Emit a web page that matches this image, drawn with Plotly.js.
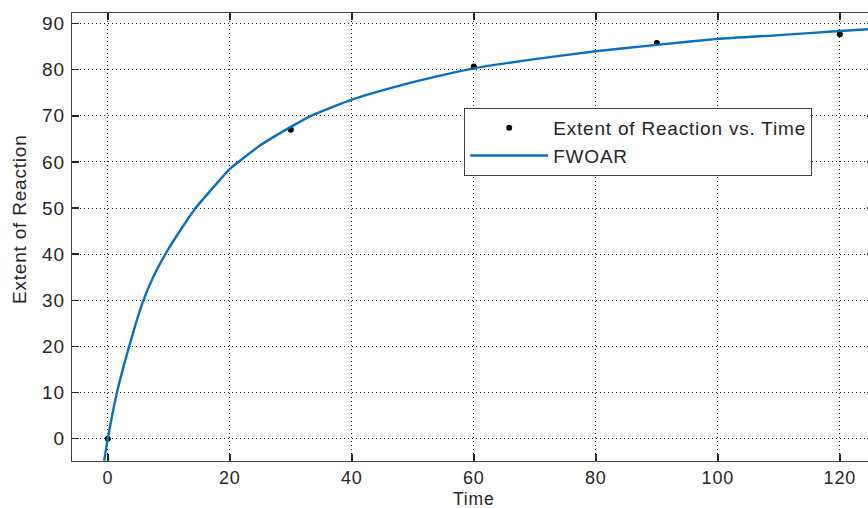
<!DOCTYPE html>
<html>
<head>
<meta charset="utf-8">
<script src="https://cdn.plot.ly/plotly-3.0.1.min.js"></script>
<style>
html,body{margin:0;padding:0;overflow:hidden;background:#fff;width:868px;height:508px;}
#chart{width:878px;height:508px;}
svg text{letter-spacing:0.8px;}
</style>
</head>
<body>
<div id="chart"></div>
<script>
// Measured data points
var timeData = [0, 30, 60, 90, 120];
var extentData = [0, 67.0, 80.7, 85.8, 87.7];

// FWOAR fitted curve
var fitTime = [-0.6, 0, 1.5, 3.5, 5.7, 7.5, 9.7, 12, 14.4, 18.3, 20, 25, 30, 33.3, 40, 45, 50, 60, 70, 80, 90, 100, 110, 120, 126];
var fitExtent = [-4.8, 0, 10, 20, 29.5, 35.2, 40.6, 45.4, 50, 56, 58.5, 63.6, 67.6, 70, 73.5, 75.5, 77.3, 80.3, 82.3, 84, 85.4, 86.7, 87.5, 88.4, 88.9];

var xTicks = [0, 20, 40, 60, 80, 100, 120];
var yTicks = [0, 10, 20, 30, 40, 50, 60, 70, 80, 90];

var font = {family: 'Liberation Sans, Arial, sans-serif', size: 19, color: '#262626'};
var xTickFont = {family: 'Liberation Sans, Arial, sans-serif', size: 18, color: '#262626'};
var titleFont = {family: 'Liberation Sans, Arial, sans-serif', size: 17.5, color: '#262626'};

var traces = [
  {
    x: timeData, y: extentData, mode: 'markers', type: 'scatter',
    name: 'Extent of Reaction vs. Time',
    marker: {color: '#000', size: 6}
  },
  {
    x: fitTime, y: fitExtent, mode: 'lines', type: 'scatter',
    name: 'FWOAR',
    line: {color: '#0A70BE', width: 2.4, shape: 'spline', smoothing: 0.5}
  }
];

var axisCommon = {
  showline: true, linecolor: '#404040', linewidth: 1.4,
  mirror: 'ticks', ticks: 'inside', ticklen: 7, tickwidth: 1.4, tickcolor: '#262626',
  showgrid: true, gridcolor: '#1a1a1a', griddash: '1px,3px', gridwidth: 1,
  zeroline: false, tickfont: font
};

var layout = {
  width: 878, height: 508,
  margin: {l: 72, r: 4, t: 13, b: 47},
  paper_bgcolor: '#fff', plot_bgcolor: '#fff',
  font: font,
  showlegend: true,
  legend: {
    x: 0.489, y: 0.788, xanchor: 'left', yanchor: 'top',
    bgcolor: '#fff', bordercolor: '#404040', borderwidth: 1,
    font: font, itemwidth: 78, tracegroupgap: 0
  },
  xaxis: Object.assign({}, axisCommon, {
    range: [-5.87, 125.6], tickvals: xTicks, ticktext: xTicks.map(String),
    tickfont: xTickFont
  }),
  yaxis: Object.assign({}, axisCommon, {
    range: [-4.85, 92.3], tickvals: yTicks, ticktext: yTicks.map(String),
    ticklabelstandoff: 2
  }),
  annotations: [
    {
      text: 'Time', showarrow: false,
      xref: 'paper', yref: 'paper', x: 0.5, y: 0, yshift: -25.5,
      xanchor: 'center', yanchor: 'top', font: titleFont
    },
    {
      text: 'Extent of Reaction', textangle: -90, showarrow: false,
      xref: 'paper', yref: 'paper', x: 0, y: 0.54, xshift: -53,
      xanchor: 'center', yanchor: 'middle', font: font
    }
  ]
};

Plotly.newPlot('chart', traces, layout, {displayModeBar: false, staticPlot: true});
</script>
</body>
</html>
